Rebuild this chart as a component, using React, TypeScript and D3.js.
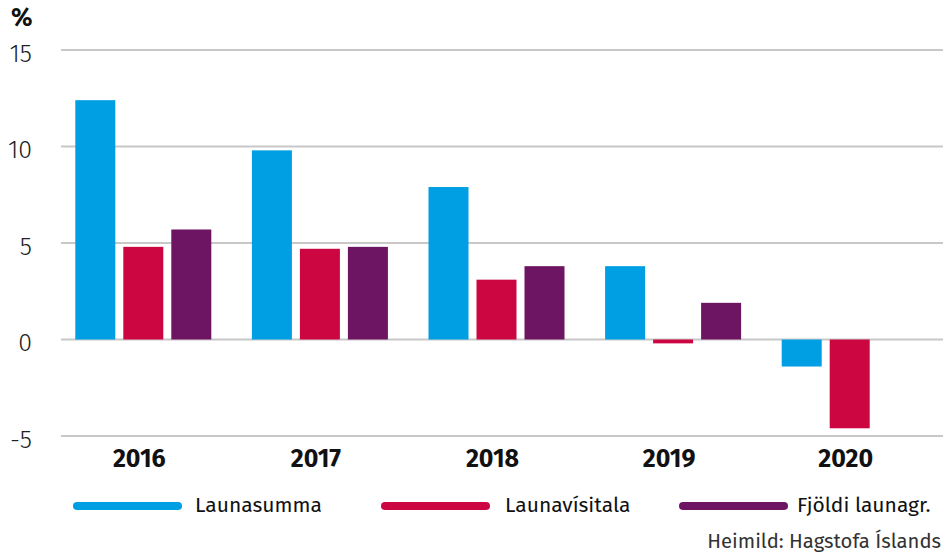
import React from 'react';
import * as d3 from 'd3';

const years = ['2016', '2017', '2018', '2019', '2020'];
const seriesNames = ['Launasumma', 'Launavísitala', 'Fjöldi launagr.'];
const launasumma = [12.4, 9.8, 7.9, 3.8, -1.4];
const launavisitala = [4.8, 4.7, 3.1, -0.2, -4.6];
const fjoldi = [5.7, 4.8, 3.8, 1.9, null];
const yTicks = [-5, 0, 5, 10, 15];
const colors = ['#009fe3', '#cc0641', '#6d1562'];

const W = 943;
const H = 556;
const FONT = "'Fira Sans', 'Noto Sans', 'Open Sans', sans-serif";

const App = () => {
  const values = [launasumma, launavisitala, fjoldi];

  const y = d3.scaleLinear().domain([-5, 15]).range([436, 50]);
  const x = d3.scaleBand().domain(years).range([55, 938]).padding(0);
  const inner = d3.scaleBand().domain(seriesNames).range([0, 136]).paddingInner(8 / 48);

  const legendPos = [
    { x1: 77, x2: 178, tx: 195 },
    { x1: 385, x2: 486, tx: 505 },
    { x1: 683, x2: 784, tx: 797 },
  ];

  return (
    <svg width={W} height={H} style={{ display: 'block', position: 'absolute', left: 0, top: 0 }}>
      <rect width={W} height={H} fill="#fff" />
      <text x={11} y={19} fontFamily={FONT} fontWeight={700} fontSize={25} fill="#111" dominantBaseline="middle">%</text>

      {/* gridlines */}
      {yTicks.map(t => (
        <g key={t}>
          <line x1={61} x2={W} y1={y(t)} y2={y(t)} stroke="#c8c8c8" strokeWidth={2} />
          <text x={32} y={y(t) + 5} textAnchor="end" dominantBaseline="middle"
            fontFamily={FONT} fontSize={25} fontWeight={300} fill="#222">{t}</text>
        </g>
      ))}

      {/* bars */}
      {years.map((yr, i) => {
        const gx = x(yr)! + x.bandwidth() / 2 - 68;
        return (
          <g key={yr} transform={`translate(${gx},0)`}>
            {seriesNames.map((s, j) => {
              const v = values[j][i];
              if (v === null || v === undefined) return null;
              const y0 = y(0);
              const yv = y(v);
              return (
                <rect key={s} x={inner(s)} width={inner.bandwidth()}
                  y={Math.min(y0, yv)} height={Math.abs(yv - y0)} fill={colors[j]} />
              );
            })}
          </g>
        );
      })}

      {/* year labels */}
      {years.map(yr => (
        <text key={yr} x={x(yr)! + x.bandwidth() / 2 - 4} y={460} textAnchor="middle" dominantBaseline="middle"
          fontFamily={FONT} fontWeight={700} fontSize={25} fill="#111">{yr}</text>
      ))}

      {/* legend */}
      {seriesNames.map((s, j) => (
        <g key={s}>
          <line x1={legendPos[j].x1} x2={legendPos[j].x2} y1={506} y2={506}
            stroke={colors[j]} strokeWidth={8} strokeLinecap="round" />
          <text x={legendPos[j].tx} y={506} dominantBaseline="middle"
            fontFamily={FONT} fontSize={21} fill="#111">{s}</text>
        </g>
      ))}

      <text x={941} y={543} textAnchor="end" dominantBaseline="middle"
        fontFamily={FONT} fontSize={20.3} fill="#333">Heimild: Hagstofa Íslands</text>
    </svg>
  );
};

export default App;
